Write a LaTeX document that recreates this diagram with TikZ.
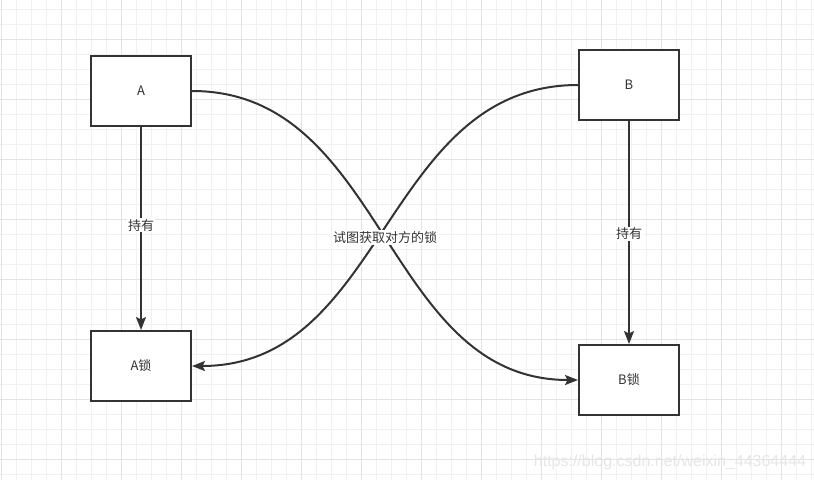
\documentclass[tikz,border=0pt]{standalone}
\usepackage{fontspec}
\setmainfont{Noto Sans CJK SC}
\newfontfamily\wmfont{Liberation Sans}
\usetikzlibrary{arrows.meta}
\definecolor{ink}{HTML}{333333}
\definecolor{gminor}{HTML}{F1F1F1}
\definecolor{gmajor}{HTML}{E3E3E3}
\definecolor{wm}{HTML}{E6E6E6}
\tikzset{
  box/.style={draw=ink, line width=2pt, fill=white, minimum width=100pt, minimum height=70pt, inner sep=0pt, text=ink, font=\fontsize{13pt}{15pt}\selectfont},
  arr/.style={draw=ink, line width=2pt, -{Stealth[length=13pt,width=10pt,inset=2.5pt]}},
  lbl/.style={fill=white, inner sep=1pt, text=ink, font=\fontsize{13pt}{15pt}\selectfont},
}
\begin{document}
\begin{tikzpicture}[x=1pt,y=-1pt]
\useasboundingbox (0,0) rectangle (814,480);
\fill[white] (0,0) rectangle (814,480);
% grid
\foreach \x in {1,16,...,811} \draw[gminor, line width=1pt] (\x,0) -- (\x,480);
\foreach \y in {9,24,...,479} \draw[gminor, line width=1pt] (0,\y) -- (814,\y);
\foreach \x in {1,61,...,781} \draw[gmajor, line width=1pt] (\x,0) -- (\x,480);
\foreach \y in {39,99,...,459} \draw[gmajor, line width=1pt] (0,\y) -- (814,\y);
% nodes
\node[box] (A) at (141,91) {A};
\node[box] (B) at (629,85) {B};
\node[box] (Al) at (141,366) {A锁};
\node[box] (Bl) at (629,380) {B锁};
% edges
\draw[arr] (A.south) -- node[lbl, pos=0.485] {持有} (Al.north);
\draw[arr] (B.west) .. controls +(-194,0) and +(194,0) .. (Al.east);
\draw[arr] (A.east) .. controls +(194,0) and +(-194,0) .. node[lbl, pos=0.5, yshift=-2pt] {试图获取对方的锁} (Bl.west);
\draw[arr] (B.south) -- node[lbl, pos=0.505] {持有} (Bl.north);
% watermark
\node[text=wm, font=\wmfont\fontsize{16pt}{18pt}\selectfont, inner sep=0pt] (wmk) at (670,462) {https://blog.csdn.net/weixin\_44364444};
\end{tikzpicture}
\end{document}
